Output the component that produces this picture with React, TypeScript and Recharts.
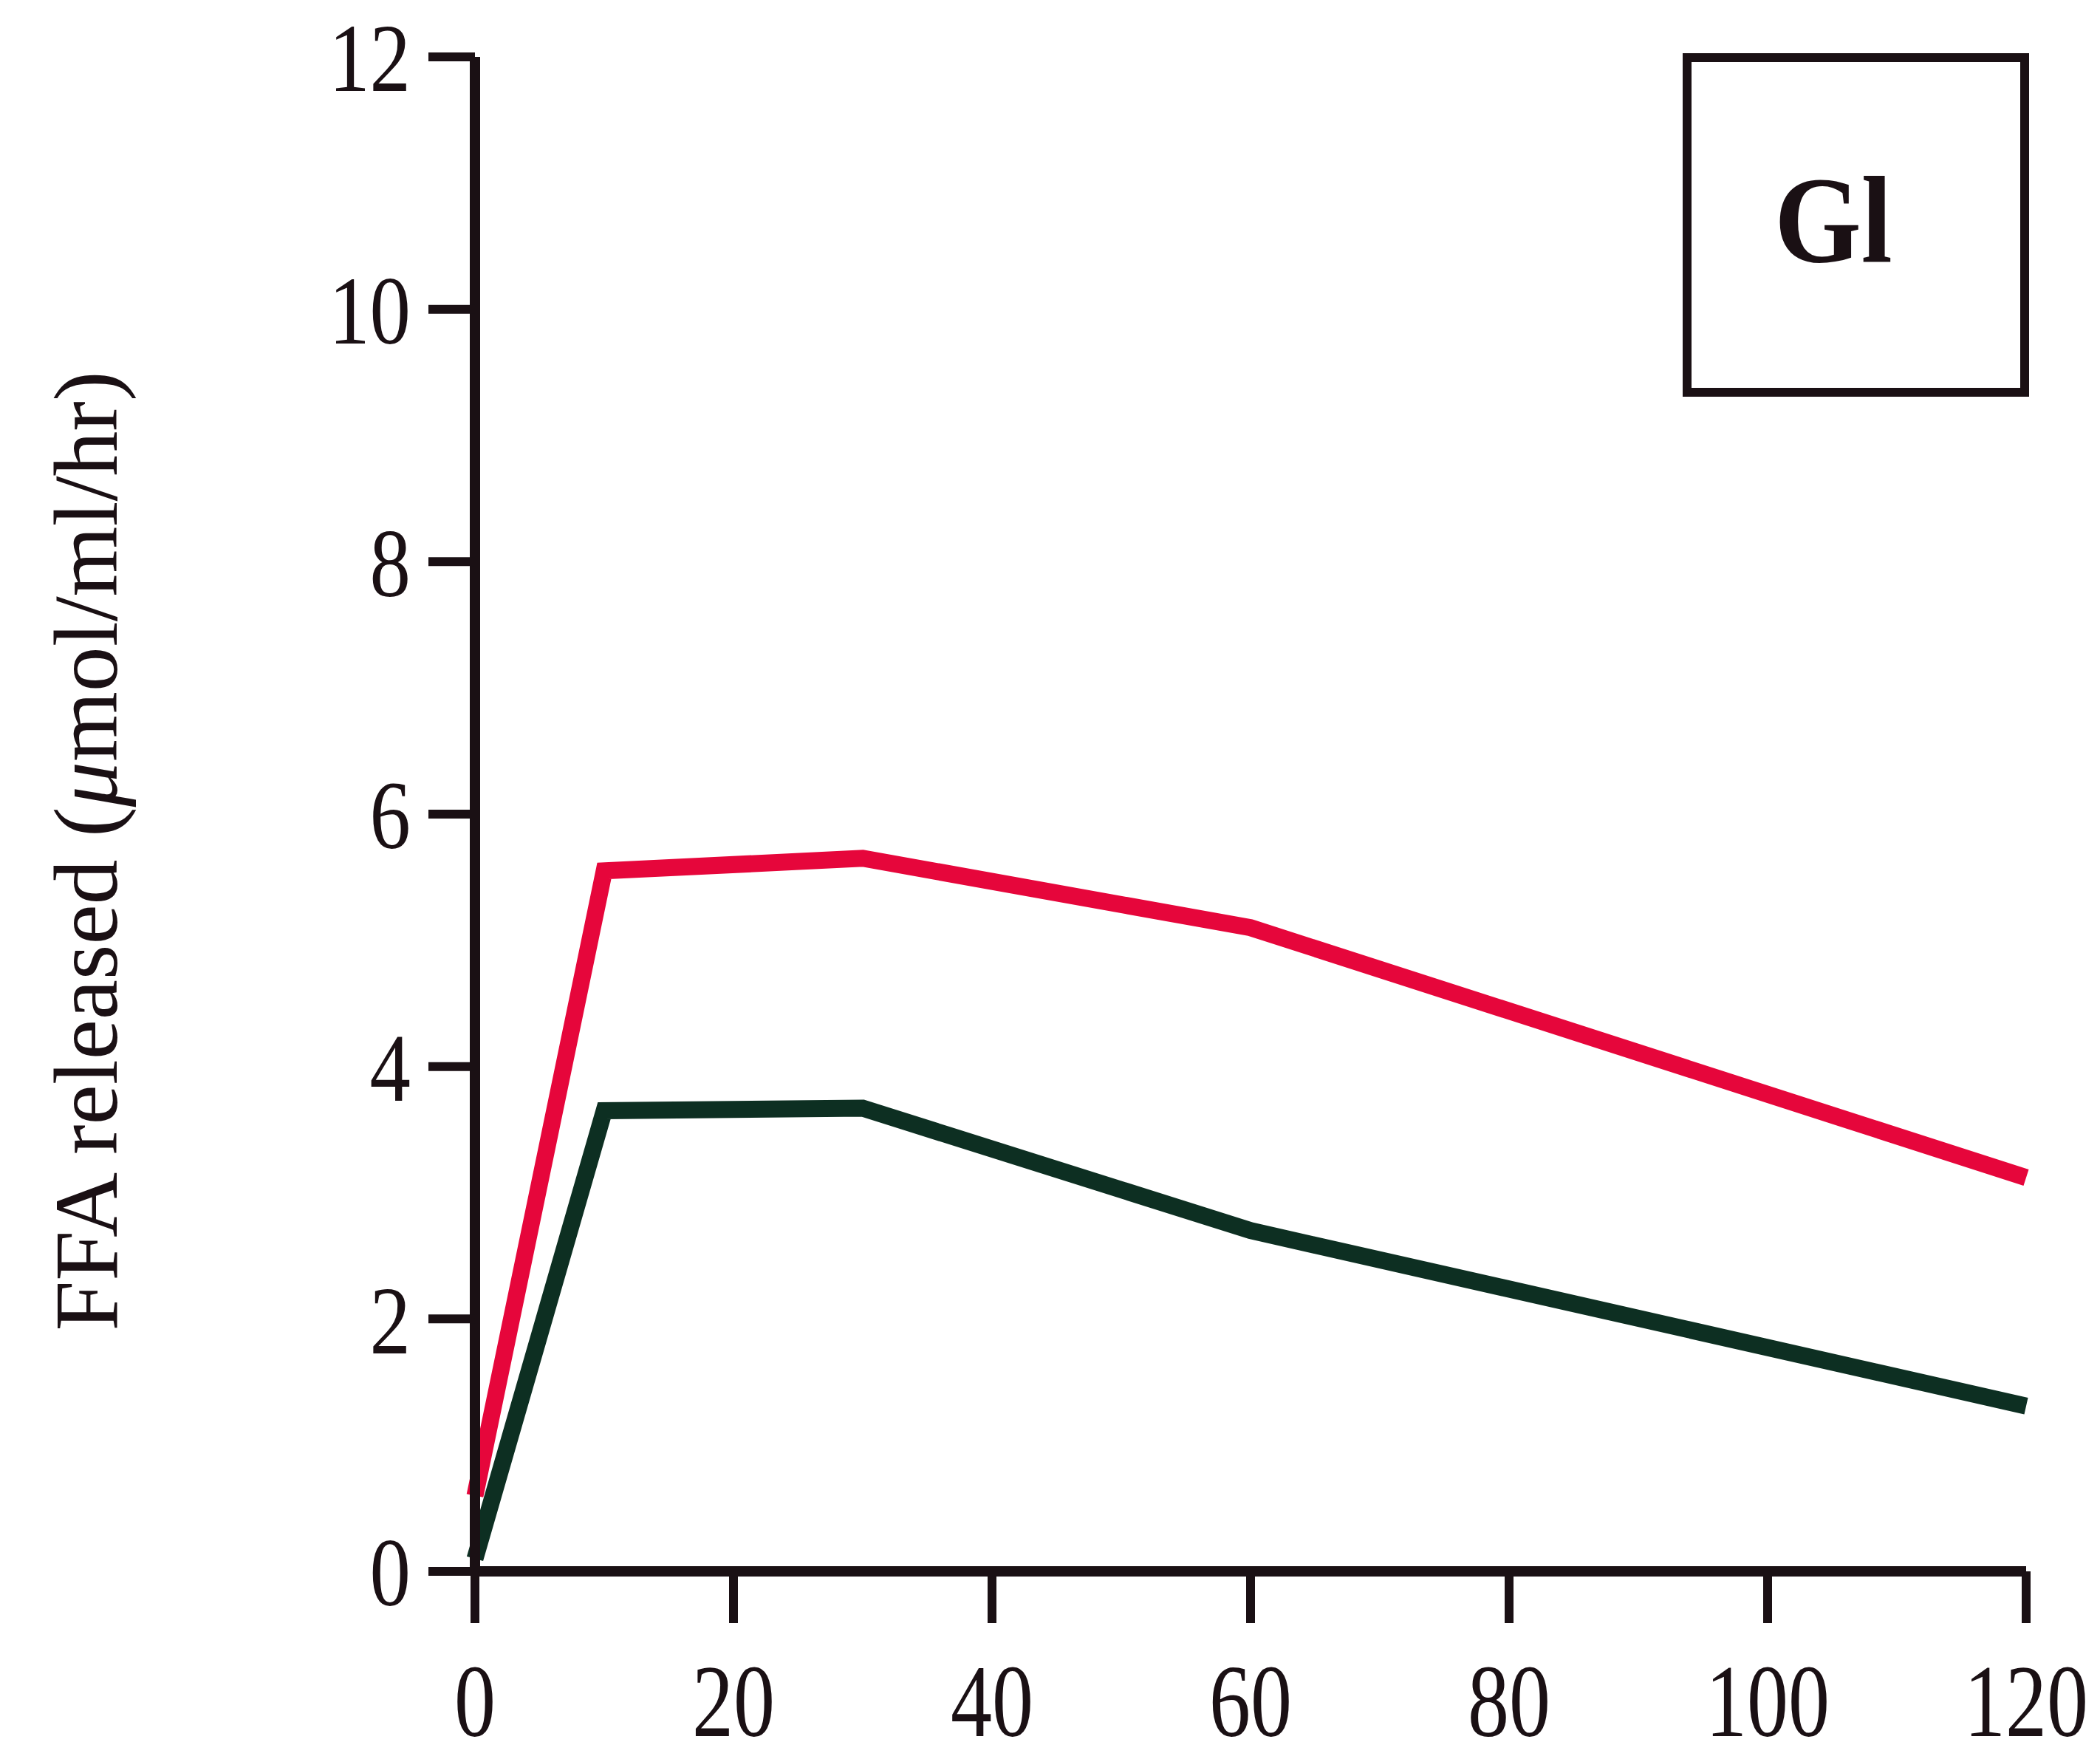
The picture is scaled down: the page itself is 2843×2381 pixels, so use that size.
import React from 'react';
import { LineChart, Line, XAxis, YAxis } from 'recharts';

// time after stimulation (min)
const minutes = [0, 10, 30, 60, 120];
// FFA released, red trace and dark green trace
const redSeries = [0.6, 5.55, 5.65, 5.1, 3.12];
const greenSeries = [0.1, 3.65, 3.67, 2.7, 1.31];

const xTicks = [0, 20, 40, 60, 80, 100, 120];
const yTicks = [0, 2, 4, 6, 8, 10, 12];

const panelLabel = 'Gl';

const data = minutes.map((t, i) => ({ t, red: redSeries[i], green: greenSeries[i] }));

const INK = '#1a1014';
const FONT = '"Liberation Serif", "Times New Roman", serif';
const W = 2835;
const H = 2381;

function YTick({ x, y, payload }: any) {
  return (
    <g transform={`translate(${x},${y}) scale(0.84,1)`}>
      <text x={0} y={0} dy="0.35em" textAnchor="end" fontFamily={FONT} fontSize={132} fill={INK}>
        {payload.value}
      </text>
    </g>
  );
}

function XTick({ x, y, payload }: any) {
  return (
    <g transform={`translate(${x},${y}) scale(0.8,1)`}>
      <text x={0} y={0} dy="0.71em" textAnchor="middle" fontFamily={FONT} fontSize={140} fill={INK}>
        {payload.value}
      </text>
    </g>
  );
}

export default function App() {
  // pulled up over the body margin so the top tick label has room
  return (
    <div style={{ position: 'relative', width: W, height: H, marginTop: -8 }}>
      <LineChart width={W} height={H} data={data} margin={{ top: 77, right: 100, left: 0, bottom: 0 }}>
        <XAxis
          dataKey="t"
          type="number"
          domain={[0, 120]}
          ticks={xTicks}
          height={254}
          tickSize={70}
          tickMargin={54}
          tick={<XTick />}
          stroke={INK}
          strokeWidth={14}
          tickLine={{ stroke: INK, strokeWidth: 12 }}
        />
        <YAxis
          type="number"
          domain={[0, 12]}
          ticks={yTicks}
          width={635}
          tickSize={63}
          tickMargin={24}
          tick={<YTick />}
          stroke={INK}
          strokeWidth={14}
          tickLine={{ stroke: INK, strokeWidth: 12 }}
        />
        <Line dataKey="red" stroke="#e6063b" strokeWidth={23} dot={false} isAnimationActive={false} />
        <Line dataKey="green" stroke="#0d2f22" strokeWidth={23} dot={false} isAnimationActive={false} />
      </LineChart>

      <svg width={W} height={H} style={{ position: 'absolute', left: 0, top: 0, pointerEvents: 'none' }}>
        {/* axis title */}
        <text
          x={150}
          y={1152}
          transform="rotate(-90, 150, 1152)"
          textAnchor="middle"
          fontFamily={FONT}
          fontSize={122}
          fill={INK}
        >
          FFA released (<tspan fontStyle="italic">μ</tspan>mol/ml/hr)
        </text>
        {/* panel tag */}
        <rect x={2276} y={78} width={457} height={453} fill="none" stroke={INK} strokeWidth={12} />
        <g transform="translate(2474,354) scale(0.9,1)">
          <text x={0} y={0} textAnchor="middle" fontFamily={FONT} fontWeight="bold" fontSize={168} fill={INK}>
            {panelLabel}
          </text>
        </g>
      </svg>
    </div>
  );
}
